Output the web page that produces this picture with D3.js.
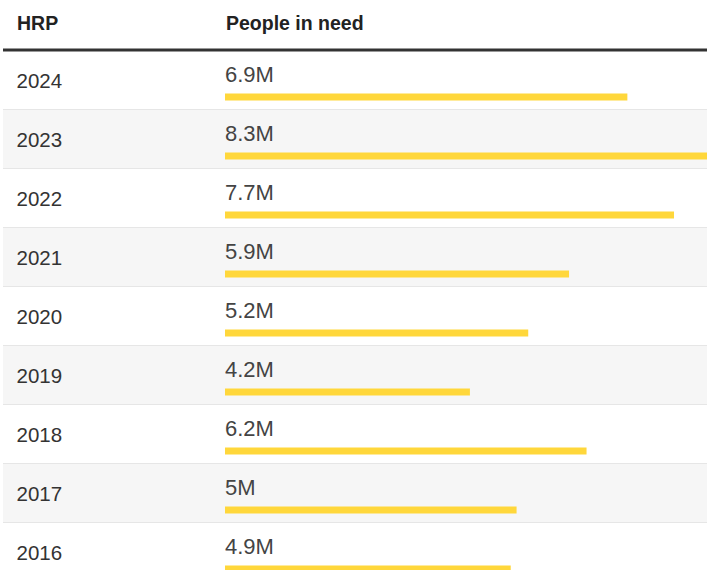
<!DOCTYPE html>
<html>
<head>
<meta charset="utf-8">
<script src="https://cdn.jsdelivr.net/npm/d3@7"></script>
<style>
  html, body { margin: 0; padding: 0; background: #fff; overflow: hidden; }
  svg { display: block; font-family: "Liberation Sans", Arial, sans-serif; }
</style>
</head>
<body>
<svg id="chart" width="707" height="570"></svg>
<script>
const years = ["2024", "2023", "2022", "2021", "2020", "2019", "2018", "2017", "2016"];
const peopleInNeed = [6.9, 8.3, 7.7, 5.9, 5.2, 4.2, 6.2, 5, 4.9];
const headers = ["HRP", "People in need"];

const width = 707;
const rowHeight = 59;
const tableTop = 51;

const svg = d3.select("#chart");

const x = d3.scaleLinear()
    .domain([0, d3.max(peopleInNeed)])
    .range([225, 709]);

const y = d3.scaleBand()
    .domain(years)
    .range([tableTop, tableTop + rowHeight * years.length]);

const rows = years.map((year, i) => ({ year: year, value: peopleInNeed[i], i: i }));

// header
svg.selectAll("text.header")
    .data(headers)
    .join("text")
    .attr("class", "header")
    .attr("x", (d, i) => i === 0 ? 17 : 226)
    .attr("y", 30)
    .attr("fill", "#222")
    .attr("font-size", "19.5px")
    .attr("font-weight", "bold")
    .text(d => d);

// row backgrounds
svg.selectAll("rect.row")
    .data(rows)
    .join("rect")
    .attr("class", "row")
    .attr("x", 3)
    .attr("y", d => y(d.year))
    .attr("width", width - 3)
    .attr("height", y.bandwidth())
    .attr("fill", d => d.i % 2 === 1 ? "#f6f6f6" : "#fff");

// separators
svg.selectAll("line.sep")
    .data(rows)
    .join("line")
    .attr("class", "sep")
    .attr("x1", 3)
    .attr("x2", width)
    .attr("y1", d => y(d.year) + y.bandwidth() - 0.5)
    .attr("y2", d => y(d.year) + y.bandwidth() - 0.5)
    .attr("stroke", "#e6e6e6")
    .attr("stroke-width", 1);

svg.append("line")
    .attr("x1", 3)
    .attr("x2", width)
    .attr("y1", 50)
    .attr("y2", 50)
    .attr("stroke", "#333")
    .attr("stroke-width", 3);

// years
svg.selectAll("text.year")
    .data(rows)
    .join("text")
    .attr("class", "year")
    .attr("x", 16.5)
    .attr("y", d => y(d.year) + 37)
    .attr("fill", "#333")
    .attr("font-size", "20.5px")
    .text(d => d.year);

// value labels
svg.selectAll("text.value")
    .data(rows)
    .join("text")
    .attr("class", "value")
    .attr("x", 225)
    .attr("y", d => y(d.year) + 31)
    .attr("fill", "#444")
    .attr("font-size", "22px")
    .text(d => `${d.value}M`);

// bars
svg.selectAll("rect.bar")
    .data(rows)
    .join("rect")
    .attr("class", "bar")
    .attr("x", x(0))
    .attr("y", d => y(d.year) + 42.5)
    .attr("width", d => x(d.value) - x(0))
    .attr("height", 7)
    .attr("fill", "#ffd73b");
</script>
</body>
</html>
